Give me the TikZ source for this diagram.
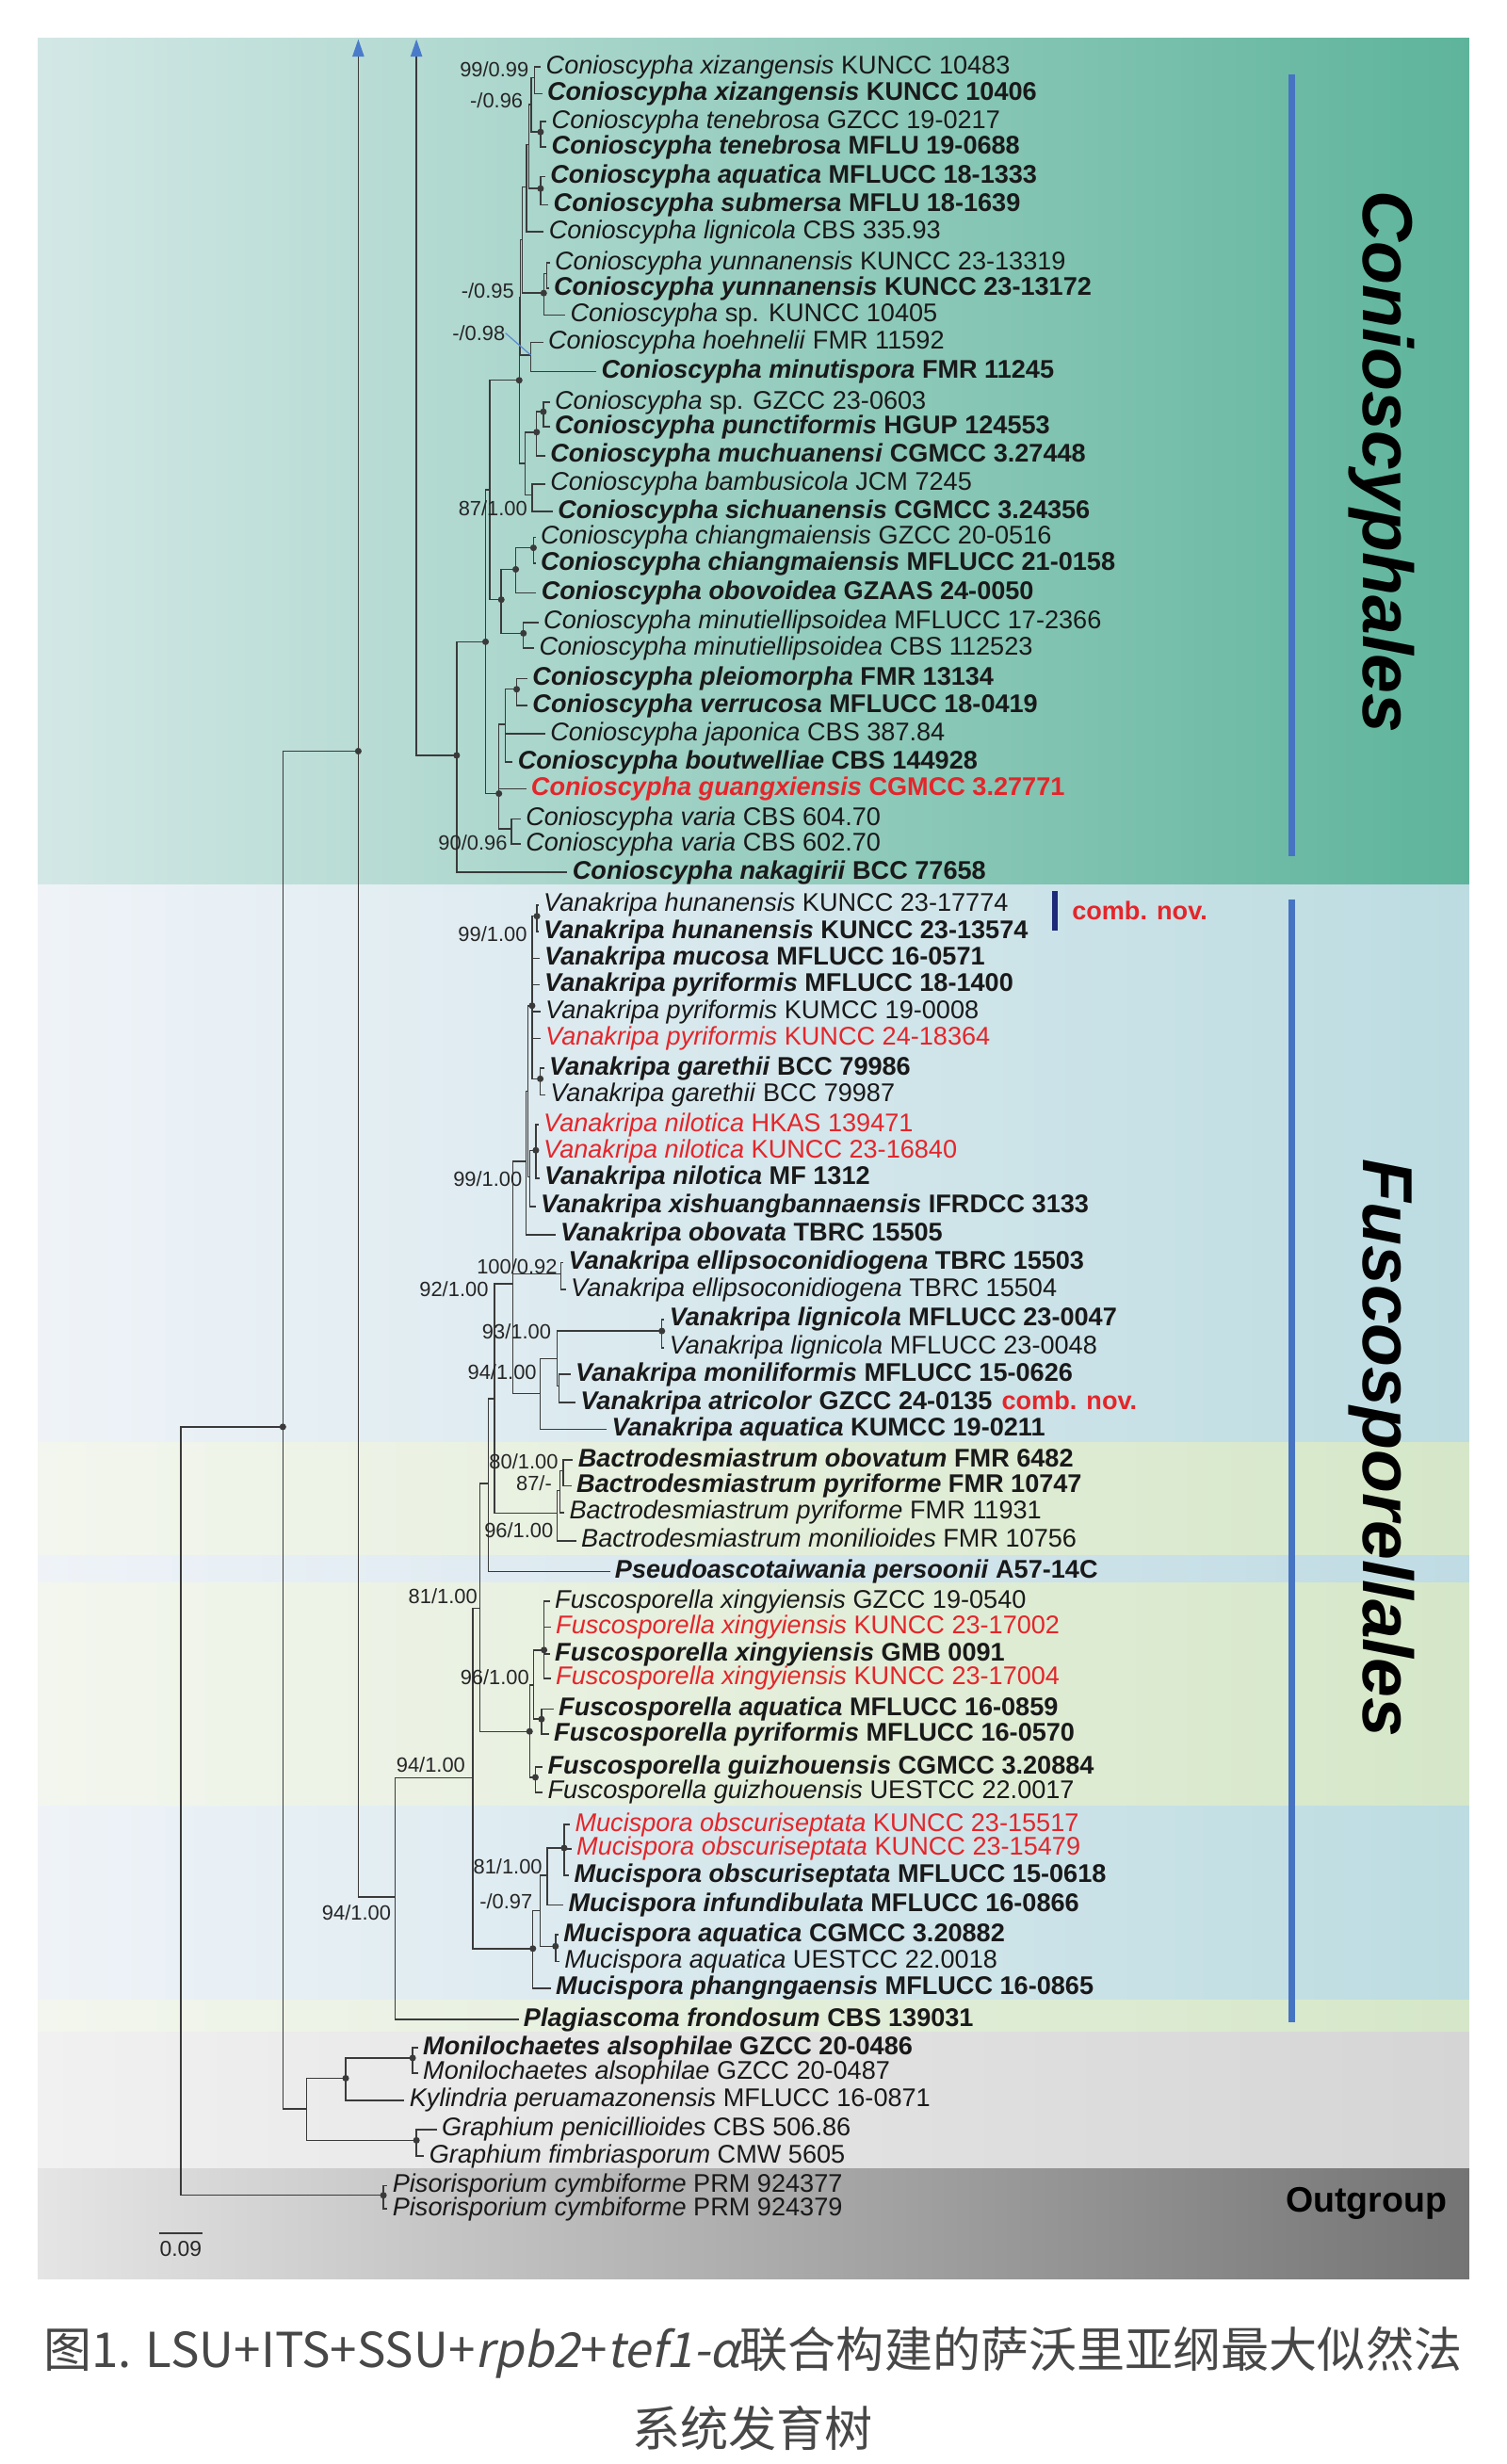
\documentclass[tikz,border=0pt]{standalone}
\usepackage{fontspec}
\setmainfont{Liberation Sans}
\newfontfamily\cjk{Noto Sans CJK SC}
\newfontfamily\cjkit{Noto Sans CJK SC}[FakeSlant=0.2]
\usetikzlibrary{calc}
\definecolor{treec}{HTML}{3A3A3A}
\definecolor{myred}{HTML}{E3262B}
\definecolor{barblue}{HTML}{4774C2}
\definecolor{navyc}{HTML}{1C2A78}
\definecolor{arrblue}{HTML}{4A7BCB}
\definecolor{ldrc}{HTML}{5B8BD2}
\definecolor{cL}{HTML}{D3E8E6}
\definecolor{cM}{HTML}{9DD0C3}
\definecolor{cR}{HTML}{5EB49B}
\definecolor{fL}{HTML}{EFF3F8}
\definecolor{fR}{HTML}{BCDCE1}
\definecolor{gL}{HTML}{F3F6EE}
\definecolor{gR}{HTML}{D5E7C8}
\definecolor{pM}{HTML}{C4DBEA}
\definecolor{pR}{HTML}{BFDBE3}
\definecolor{yL}{HTML}{F1F1F1}
\definecolor{yR}{HTML}{D5D5D5}
\definecolor{oL}{HTML}{E5E5E5}
\definecolor{oM}{HTML}{BEBEBE}
\definecolor{oR}{HTML}{747474}
\definecolor{capc}{HTML}{474747}
\newcommand\treefont{\fontsize{13}{13}\selectfont}
\newcommand\lf[7]{\node[#5] (#1) at (#3,#4+1.5) {\textit{#6} #7};\draw[lfb] (#2) |- (#1.west);}
\newcommand\bsv[4]{\node[bs] (#1) at (#2,#3+4.7) {#4};}
\newcommand\dotat[1]{\fill[treec] (#1) circle[radius=1.7pt];}
\begin{document}
\begin{tikzpicture}[x=0.8pt,y=-0.8pt,
  br/.style={draw=treec, line width=0.7pt},
  lfb/.style={draw=treec, line width=0.7pt, shorten >=2.4pt},
  lab/.style={anchor=west, inner sep=0pt, text height=9.5pt, text depth=2.7pt, font=\treefont, text=black!90},
  labb/.style={lab, font=\treefont\bfseries},
  labr/.style={lab, text=myred},
  labrb/.style={labb, text=myred},
  bs/.style={anchor=base east, inner sep=0pt, font=\fontsize{10.5}{10.5}\selectfont, text=black!85},
  ordl/.style={inner sep=0pt, font=\fontsize{36}{36}\selectfont\bfseries\itshape, text=black},
  cnv/.style={inner sep=0pt, anchor=base west, font=\fontsize{13}{13}\selectfont\bfseries, text=myred},
  obar/.style={draw=barblue, line width=3.5pt}]
\useasboundingbox (0,0) rectangle (959,1568);
\fill[white] (0,0) rectangle (959,1568);
% ---------- backgrounds ----------
\shade[left color=cL, middle color=cM, right color=cR] (24,24) rectangle (935,563);
\shade[left color=fL, right color=fR] (24,563) rectangle (935,1293);
\shade[left color=gL, right color=gR] (24,918) rectangle (935,990);
\shade[left color=fL, middle color=pM, right color=pR] (24,990) rectangle (935,1007);
\shade[left color=gL, right color=gR] (24,1007) rectangle (935,1149);
\shade[left color=gL, right color=gR] (24,1273) rectangle (935,1293);
\shade[left color=yL, right color=yR] (24,1293) rectangle (935,1380);
\shade[left color=oL, middle color=oM, right color=oR] (24,1380) rectangle (935,1450);
% ---------- bars ----------
\coordinate (ba1) at (822,47.4); \coordinate (ba2) at (822,545);
\coordinate (bb1) at (822,572.4); \coordinate (bb2) at (822,1287);
\draw[obar] (ba1) -- (ba2);
\draw[obar] (bb1) -- (bb2);
\coordinate (nb1) at (671.5,567); \coordinate (nb2) at (671.5,592);
\draw[navyc, line width=3pt] (nb1) -- (nb2);
% ---------- internal nodes ----------
\coordinate (topA) at (228,36);
\coordinate (topB) at (265,36);
\coordinate (root) at (115,1152.5);
\coordinate (n180) at (180,908);
\coordinate (n228) at (228,478);
\coordinate (CR) at (290.6,480.7);
\coordinate (A) at (309,408.4);
\coordinate (E) at (311.7,311.8);
\coordinate (D) at (317.5,505);
\coordinate (B) at (330.4,242);
\coordinate (C) at (319,381.6);
\coordinate (H5) at (331.2,189.4);
\coordinate (P4) at (334,295);
\coordinate (H4) at (332.4,152.7);
\coordinate (F) at (337.8,226);
\coordinate (H3) at (335,119);
\coordinate (Y1) at (346,186.5);
\coordinate (H2) at (336.5,92);
\coordinate (H1) at (338,66.5);
\coordinate (G3) at (344,120);
\coordinate (G1) at (340,49.5);
\coordinate (G2) at (344,84);
\coordinate (Y0) at (348,174);
\coordinate (P1) at (345.8,262);
\coordinate (P2) at (341.5,275);
\coordinate (P3) at (338.7,315);
\coordinate (C1) at (328.2,362.3);
\coordinate (CP) at (339.5,348.6);
\coordinate (M) at (333.1,403);
\coordinate (Q2) at (321.7,460.8);
\coordinate (Q1) at (328.8,438.6);
\coordinate (V) at (325.4,527.5);
\coordinate (N7) at (251.4,1207.1);
\coordinate (N6) at (301,1131.2);
\coordinate (N5) at (305.5,1023.3);
\coordinate (N4) at (310.7,944);
\coordinate (N3) at (314.7,890);
\coordinate (N2) at (326.4,817);
\coordinate (N1) at (343.8,886.7);
\coordinate (L2) at (354.6,864.5);
\coordinate (L1) at (421.2,847);
\coordinate (MA) at (355.6,882);
\coordinate (E1) at (357,810.5);
\coordinate (VO) at (334.6,739);
\coordinate (VO1) at (336,694.5);
\coordinate (VP) at (338.6,640);
\coordinate (VX) at (337.2,749);
\coordinate (VN) at (341,732);
\coordinate (VH) at (341.7,583);
\coordinate (VG) at (343.8,686.5);
\coordinate (B3) at (354.4,963);
\coordinate (B2) at (356.2,948.5);
\coordinate (B1) at (358.5,936);
\coordinate (F2) at (337,1101.8);
\coordinate (F1) at (339.5,1072.3);
\coordinate (FX) at (346.2,1050);
\coordinate (FA) at (344.6,1094);
\coordinate (FG) at (340.7,1131);
\coordinate (MU3) at (339.1,1240);
\coordinate (MU2) at (343.7,1216);
\coordinate (MU1) at (348.3,1193.5);
\coordinate (MuO) at (359,1176);
\coordinate (MuA) at (353.5,1238.5);
\coordinate (n195) at (195,1342);
\coordinate (n220) at (220,1322.5);
\coordinate (MP) at (262.6,1309.6);
\coordinate (Gr) at (265,1362);
\coordinate (Pis) at (244,1397);
% ---------- internal connectors ----------
\draw[br] (root) |- (n180);
\draw[br] (root) |- (Pis);
\draw[br] (n180) |- (n228);
\draw[br] (n180) |- (n195);
\draw[br] (n228) |- (N7);
\draw[br] (n228) -- (topA);
\draw[br] (topB) |- (CR);
\fill[arrblue] ($(topA)+(-3.8,0)$) -- ($(topA)+(3.8,0)$) -- ($(topA)+(0,-11)$) -- cycle;
\fill[arrblue] ($(topB)+(-3.8,0)$) -- ($(topB)+(3.8,0)$) -- ($(topB)+(0,-11)$) -- cycle;
\draw[br] (CR) |- (A);
\draw[br] (A) |- (E);
\draw[br] (A) |- (D);
\draw[br] (E) |- (B);
\draw[br] (E) |- (C);
\draw[br] (B) |- (H5);
\draw[br] (B) |- (P4);
\draw[br] (H5) |- (H4);
\draw[br] (H5) |- (F);
\draw[br] (H4) |- (H3);
\draw[br] (H4) |- (Y1);
\draw[br] (H3) |- (H2);
\draw[br] (H2) |- (H1);
\draw[br] (H2) |- (G3);
\draw[br] (H1) |- (G1);
\draw[br] (H1) |- (G2);
\draw[br] (Y1) |- (Y0);
\draw[br] (P4) |- (P2);
\draw[br] (P4) |- (P3);
\draw[br] (P2) |- (P1);
\draw[br] (C) |- (C1);
\draw[br] (C) |- (M);
\draw[br] (C1) |- (CP);
\draw[br] (D) |- (Q2);
\draw[br] (D) |- (V);
\draw[br] (Q2) |- (Q1);
\draw[br] (N7) |- (N6);
\draw[br] (N6) |- (N5);
\draw[br] (N6) |- (MU3);
\draw[br] (N5) |- (N4);
\draw[br] (N5) |- (F2);
\draw[br] (N4) |- (N3);
\draw[br] (N3) |- (N2);
\draw[br] (N3) |- (B3);
\draw[br] (N2) |- (VO);
\draw[br] (N2) |- (E1);
\draw[br] (N2) |- (N1);
\draw[br] (VO) |- (VO1);
\draw[br] (VO1) |- (VP);
\draw[br] (VO1) |- (VX);
\draw[br] (VP) |- (VH);
\draw[br] (VP) |- (VG);
\draw[br] (VX) |- (VN);
\draw[br] (N1) |- (L2);
\draw[br] (L2) |- (L1);
\draw[br] (L2) |- (MA);
\draw[br] (B3) |- (B2);
\draw[br] (B2) |- (B1);
\draw[br] (F2) |- (F1);
\draw[br] (F2) |- (FG);
\draw[br] (F1) |- (FX);
\draw[br] (F1) |- (FA);
\draw[br] (MU3) |- (MU2);
\draw[br] (MU2) |- (MU1);
\draw[br] (MU2) |- (MuA);
\draw[br] (MU1) |- (MuO);
\draw[br] (n195) |- (n220);
\draw[br] (n195) |- (Gr);
\draw[br] (n220) |- (MP);
% ---------- leaves: Conioscyphales ----------
\lf{r1}{G1}{347.2}{41}{lab}{Conioscypha xizangensis}{KUNCC 10483}
\lf{r2}{G1}{348}{58}{labb}{Conioscypha xizangensis}{KUNCC 10406}
\lf{r3}{G2}{350.8}{75.9}{lab}{Conioscypha tenebrosa}{GZCC 19-0217}
\lf{r4}{G2}{350.8}{92}{labb}{Conioscypha tenebrosa}{MFLU 19-0688}
\lf{r5}{G3}{350}{111}{labb}{Conioscypha aquatica}{MFLUCC 18-1333}
\lf{r6}{G3}{352}{129}{labb}{Conioscypha submersa}{MFLU 18-1639}
\lf{r7}{H3}{349.1}{146}{lab}{Conioscypha lignicola}{CBS 335.93}
\lf{r8}{Y0}{352.8}{165.8}{lab}{Conioscypha yunnanensis}{KUNCC 23-13319}
\lf{r9}{Y0}{352.2}{182}{labb}{Conioscypha yunnanensis}{KUNCC 23-13172}
\lf{r10}{Y1}{362.7}{199}{lab}{Conioscypha}{sp. KUNCC 10405}
\lf{r11}{F}{348.6}{216.5}{lab}{Conioscypha hoehnelii}{FMR 11592}
\lf{r12}{F}{382.5}{235}{labb}{Conioscypha minutispora}{FMR 11245}
\lf{r13}{P1}{352.8}{254.5}{lab}{Conioscypha}{sp. GZCC 23-0603}
\lf{r14}{P1}{352.8}{270}{labb}{Conioscypha punctiformis}{HGUP 124553}
\lf{r15}{P2}{350}{288.5}{labb}{Conioscypha muchuanensi}{CGMCC 3.27448}
\lf{r16}{P3}{350}{306.5}{lab}{Conioscypha bambusicola}{JCM 7245}
\lf{r17}{P3}{354.8}{324}{labb}{Conioscypha sichuanensis}{CGMCC 3.24356}
\lf{r18}{CP}{343.8}{340.5}{lab}{Conioscypha chiangmaiensis}{GZCC 20-0516}
\lf{r19}{CP}{343.8}{357}{labb}{Conioscypha chiangmaiensis}{MFLUCC 21-0158}
\lf{r20}{C1}{344.3}{375.8}{labb}{Conioscypha obovoidea}{GZAAS 24-0050}
\lf{r21}{M}{345.7}{394.6}{lab}{Conioscypha minutiellipsoidea}{MFLUCC 17-2366}
\lf{r22}{M}{342.9}{411}{lab}{Conioscypha minutiellipsoidea}{CBS 112523}
\lf{r23}{Q1}{338.7}{430.5}{labb}{Conioscypha pleiomorpha}{FMR 13134}
\lf{r24}{Q1}{338.7}{447.5}{labb}{Conioscypha verrucosa}{MFLUCC 18-0419}
\lf{r25}{Q2}{350}{465.5}{lab}{Conioscypha japonica}{CBS 387.84}
\lf{r26}{Q2}{329.3}{483.5}{labb}{Conioscypha boutwelliae}{CBS 144928}
\lf{r27}{D}{337.8}{500.5}{labrb}{Conioscypha guangxiensis}{CGMCC 3.27771}
\lf{r28}{V}{334.4}{519.5}{lab}{Conioscypha varia}{CBS 604.70}
\lf{r29}{V}{334.4}{535.5}{lab}{Conioscypha varia}{CBS 602.70}
\lf{r30}{CR}{364.1}{553.5}{labb}{Conioscypha nakagirii}{BCC 77658}
% ---------- leaves: Fuscosporellales ----------
\lf{r31}{VH}{345.7}{574.4}{lab}{Vanakripa hunanensis}{KUNCC 23-17774}
\lf{r32}{VH}{345.7}{591.4}{labb}{Vanakripa hunanensis}{KUNCC 23-13574}
\lf{r33}{VP}{346.3}{608.4}{labb}{Vanakripa mucosa}{MFLUCC 16-0571}
\lf{r34}{VP}{346.3}{625.3}{labb}{Vanakripa pyriformis}{MFLUCC 18-1400}
\lf{r35}{VP}{346.9}{642.3}{lab}{Vanakripa pyriformis}{KUMCC 19-0008}
\lf{r36}{VP}{346.9}{659.3}{labr}{Vanakripa pyriformis}{KUNCC 24-18364}
\lf{r37}{VG}{349.3}{678.3}{labb}{Vanakripa garethii}{BCC 79986}
\lf{r38}{VG}{350}{695.3}{lab}{Vanakripa garethii}{BCC 79987}
\lf{r39}{VN}{345.7}{714.2}{labr}{Vanakripa nilotica}{HKAS 139471}
\lf{r40}{VN}{345.7}{731.2}{labr}{Vanakripa nilotica}{KUNCC 23-16840}
\lf{r41}{VN}{346.3}{748.2}{labb}{Vanakripa nilotica}{MF 1312}
\lf{r42}{VX}{343.8}{766.2}{labb}{Vanakripa xishuangbannaensis}{IFRDCC 3133}
\lf{r43}{VO}{356.4}{784.2}{labb}{Vanakripa obovata}{TBRC 15505}
\lf{r44}{E1}{361.6}{802.1}{labb}{Vanakripa ellipsoconidiogena}{TBRC 15503}
\lf{r45}{E1}{363.1}{819.1}{lab}{Vanakripa ellipsoconidiogena}{TBRC 15504}
\lf{r46}{L1}{425.8}{838.1}{labb}{Vanakripa lignicola}{MFLUCC 23-0047}
\lf{r47}{L1}{425.8}{856.1}{lab}{Vanakripa lignicola}{MFLUCC 23-0048}
\lf{r48}{MA}{366.1}{873.1}{labb}{Vanakripa moniliformis}{MFLUCC 15-0626}
\lf{r49}{MA}{369.2}{891}{labb}{Vanakripa atricolor}{GZCC 24-0135}
\lf{r50}{N1}{389.1}{908}{labb}{Vanakripa aquatica}{KUMCC 19-0211}
\lf{r51}{B1}{367.7}{927.5}{labb}{Bactrodesmiastrum obovatum}{FMR 6482}
\lf{r52}{B1}{366.7}{944}{labb}{Bactrodesmiastrum pyriforme}{FMR 10747}
\lf{r53}{B2}{362.1}{961}{lab}{Bactrodesmiastrum pyriforme}{FMR 11931}
\lf{r54}{B3}{369.7}{979}{lab}{Bactrodesmiastrum monilioides}{FMR 10756}
\lf{r55}{N4}{391.1}{998.5}{labb}{Pseudoascotaiwania persoonii}{A57-14C}
\lf{r56}{FX}{352.9}{1017.5}{lab}{Fuscosporella xingyiensis}{GZCC 19-0540}
\lf{r57}{FX}{353.5}{1034}{labr}{Fuscosporella xingyiensis}{KUNCC 23-17002}
\lf{r58}{FX}{352.9}{1051}{labb}{Fuscosporella xingyiensis}{GMB 0091}
\lf{r59}{FX}{353.5}{1066.5}{labr}{Fuscosporella xingyiensis}{KUNCC 23-17004}
\lf{r60}{FA}{355.3}{1086}{labb}{Fuscosporella aquatica}{MFLUCC 16-0859}
\lf{r61}{FA}{352.3}{1102}{labb}{Fuscosporella pyriformis}{MFLUCC 16-0570}
\lf{r62}{FG}{348.3}{1123}{labb}{Fuscosporella guizhouensis}{CGMCC 3.20884}
\lf{r63}{FG}{348.3}{1139}{lab}{Fuscosporella guizhouensis}{UESTCC 22.0017}
\lf{r64}{MuO}{365.7}{1159.5}{labr}{Mucispora obscuriseptata}{KUNCC 23-15517}
\lf{r65}{MuO}{366.7}{1175}{labr}{Mucispora obscuriseptata}{KUNCC 23-15479}
\lf{r66}{MuO}{365.1}{1192}{labb}{Mucispora obscuriseptata}{MFLUCC 15-0618}
\lf{r67}{MU1}{361.5}{1210.7}{labb}{Mucispora infundibulata}{MFLUCC 16-0866}
\lf{r68}{MuA}{358.4}{1229.7}{labb}{Mucispora aquatica}{CGMCC 3.20882}
\lf{r69}{MuA}{359}{1246.7}{lab}{Mucispora aquatica}{UESTCC 22.0018}
\lf{r70}{MU3}{353.5}{1263.7}{labb}{Mucispora phangngaensis}{MFLUCC 16-0865}
\lf{r71}{N7}{333}{1283.6}{labb}{Plagiascoma frondosum}{CBS 139031}
% ---------- leaves: others ----------
\lf{r72}{MP}{269}{1301.6}{labb}{Monilochaetes alsophilae}{GZCC 20-0486}
\lf{r73}{MP}{269}{1317.6}{lab}{Monilochaetes alsophilae}{GZCC 20-0487}
\lf{r74}{n220}{260.4}{1335}{lab}{Kylindria peruamazonensis}{MFLUCC 16-0871}
\lf{r75}{Gr}{281}{1353.6}{lab}{Graphium penicillioides}{CBS 506.86}
\lf{r76}{Gr}{273}{1370.6}{lab}{Graphium fimbriasporum}{CMW 5605}
\lf{r77}{Pis}{249.6}{1389.5}{lab}{Pisorisporium cymbiforme}{PRM 924377}
\lf{r78}{Pis}{249.6}{1404}{lab}{Pisorisporium cymbiforme}{PRM 924379}
% ---------- dots ----------
\foreach \p in {CR,A,B,C,D,C1,CP,M,Q1,G2,G3,Y1,P1,P2,n180,n228,VH,VP,VG,VN,L1,F2,FX,FA,FG,MU3,MuO,MuA,n220,MP,Gr,Pis}{\dotat{\p}}
% ---------- support values ----------
\bsv{s1}{336.7}{44}{99/0.99}
\bsv{s2}{333}{64}{-/0.96}
\bsv{s3}{327.4}{184.8}{-/0.95}
\bsv{s4}{321.7}{212}{-/0.98}
\draw[ldrc, line width=0.6pt] (s4.east) -- (F);
\bsv{s5}{335.8}{323.7}{87/1.00}
\bsv{s6}{323}{536}{90/0.96}
\bsv{s7}{335.6}{594.4}{99/1.00}
\bsv{s8}{332.5}{750.2}{99/1.00}
\bsv{s9}{354.8}{806.1}{100/0.92}
\bsv{s10}{311}{820.1}{92/1.00}
\bsv{s11}{350.9}{847.1}{93/1.00}
\bsv{s12}{341.7}{873}{94/1.00}
\bsv{s13}{355.4}{930}{80/1.00}
\bsv{s14}{351.4}{944}{87/-}
\bsv{s15}{352.3}{974}{96/1.00}
\bsv{s16}{304}{1016}{81/1.00}
\bsv{s17}{337}{1067}{96/1.00}
\bsv{s18}{296.3}{1122.8}{94/1.00}
\bsv{s19}{345.3}{1187.7}{81/1.00}
\bsv{s20}{339.1}{1209.7}{-/0.97}
\bsv{s21}{249}{1217}{94/1.00}
% ---------- comb. nov. ----------
\node[cnv] (cn1) at (682,585) {comb. nov.};
\node[cnv] (cn2) at ([xshift=4.4pt]r49.base east) {comb. nov.};
% ---------- order labels ----------
\node[ordl, rotate=-90] (oc) at (879.5,294) {Conioscyphales};
\node[ordl, rotate=-90] (of) at (879.5,921.5) {Fuscosporellales};
\node[inner sep=0pt, font=\fontsize{18}{18}\selectfont\bfseries] (og) at (869.5,1402) {Outgroup};
% ---------- scale bar ----------
\coordinate (sb1) at (101,1421); \coordinate (sb2) at (129,1421);
\draw[treec, line width=0.7pt] (sb1) -- (sb2);
\node[inner sep=0pt, font=\fontsize{11}{11}\selectfont, text=black!85] (sbl) at (115,1431) {0.09};
% ---------- caption ----------
\node[inner sep=0pt, font=\fontsize{24.5}{24.5}\cjk, text=capc] (cap1) at (479,1497) {图1. LSU+ITS+SSU+{\cjkit rpb2}+{\cjkit tef1-α}联合构建的萨沃里亚纲最大似然法};
\node[inner sep=0pt, font=\fontsize{24.5}{24.5}\cjk, text=capc] (cap2) at (479,1545) {系统发育树};
\end{tikzpicture}
\end{document}
